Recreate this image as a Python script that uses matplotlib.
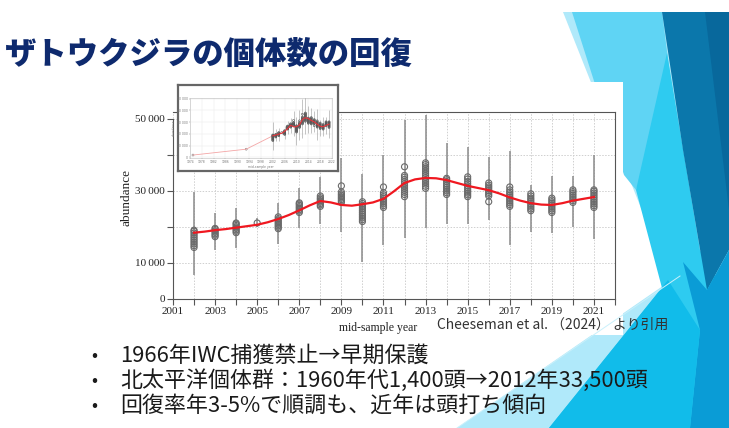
import matplotlib.pyplot as plt
from matplotlib.patches import Polygon, Rectangle

W, H = 729, 428

# humpback abundance, North Pacific (Cheeseman et al. 2024)
years = list(range(2002, 2022))
ci_low = [6700, 13600, 14200, 20000, 15300, 19700, 20800, 18600, 10300, 15000,
          16900, 19700, 20800, 20800, 21900, 15000, 18600, 18300, 20000, 16700]
ci_high = [29700, 23900, 25300, 22500, 26700, 30800, 33900, 39200, 34700, 40000,
           49700, 51000, 43300, 42200, 39400, 41100, 31700, 34200, 34200, 40000]
estimates = [
    [14300, 14800, 15300, 15800, 16300, 16800, 17300, 17800, 18300, 18800, 19100],
    [17300, 17700, 18100, 18500, 18900, 19300, 19600],
    [18400, 18800, 19200, 19600, 20000, 20400, 20800, 21100],
    [21100],
    [19500, 19900, 20300, 20700, 21100, 21500, 21900, 22300, 22800],
    [24000, 24400, 24800, 25200, 25600, 26000, 26400, 26700],
    [25700, 26100, 26500, 26900, 27300, 27700, 28100, 28600],
    [26800, 27200, 27600, 28000, 28400, 28800, 29200, 29700, 31400],
    [21500, 22000, 22500, 23000, 23500, 24000, 24500, 25000, 25500, 26000, 26500, 27000],
    [25400, 25900, 26400, 26900, 27400, 27900, 28400, 28900, 29500, 31100],
    [28400, 29000, 29600, 30200, 30800, 31400, 32000, 32600, 33200, 33800, 34300, 36700],
    [30700, 31300, 31900, 32500, 33100, 33700, 34300, 34900, 35500, 36100, 36700, 37300, 37800],
    [29000, 29500, 30000, 30500, 31000, 31500, 32000, 32600, 33100, 33500],
    [28400, 28900, 29400, 29900, 30400, 30900, 31400, 32000, 32600, 33300, 33900],
    [27000, 28600, 29100, 29600, 30100, 30600, 31100, 31600, 32200],
    [25700, 26200, 26700, 27200, 27700, 28200, 28700, 29200, 29700, 30300, 31100],
    [24500, 25000, 25500, 26000, 26500, 27000, 27500, 28000, 28600, 29200],
    [24000, 24500, 25000, 25500, 26000, 26500, 27000, 27500, 28000],
    [26800, 27300, 27800, 28300, 28800, 29300, 29800, 30300],
    [25400, 25900, 26400, 26900, 27400, 27900, 28400, 28900, 29400, 29900, 30300],
]
trend_x = [2002, 2002.5, 2003, 2003.5, 2004, 2004.5, 2005, 2005.5, 2006, 2006.5,
           2007, 2007.5, 2008, 2008.5, 2009, 2009.5, 2010, 2010.5, 2011, 2011.5,
           2012, 2012.5, 2013, 2013.5, 2014, 2014.5, 2015, 2015.5, 2016, 2016.5,
           2017, 2017.5, 2018, 2018.5, 2019, 2019.5, 2020, 2020.5, 2021]
trend_y = [18400, 18700, 19100, 19400, 19800, 20200, 20600, 21300, 22200, 23300,
           24600, 26000, 27200, 26800, 26100, 25900, 26300, 26800, 27800, 29900,
           32200, 33200, 33600, 33500, 33000, 32200, 31400, 30800, 30200, 29300,
           28200, 27300, 26600, 26200, 26100, 26600, 27300, 27800, 28300]
early_years = [1975, 1993]
early_vals = [2000, 7000]

title = 'ザトウクジラの個体数の回復'
bullets = ['1966年IWC捕獲禁止→早期保護',
           '北太平洋個体群：1960年代1,400頭→2012年33,500頭',
           '回復率年3-5%で順調も、近年は頭打ち傾向']
source = 'Cheeseman et al. （2024） より引用'

jp = ['Noto Sans CJK JP', 'DejaVu Sans']
serif = ['Liberation Serif', 'DejaVu Serif']

fig = plt.figure(figsize=(W / 100, H / 100), dpi=100)
fig.patch.set_facecolor('white')

# slide background in pixel coordinates
bg = fig.add_axes([0, 0, 1, 1])
bg.set_xlim(0, W)
bg.set_ylim(H, 0)
bg.axis('off')

shapes = [
    ('#b0e9fa', [(563, 12), (729, 12), (729, 428), (457, 428), (670, 281)]),
    ('#5fd4f4', [(572, 12), (662, 12), (672, 90), (636, 190), (624, 175)]),
    ('#2ecbf0', [(667, 53), (700, 250), (729, 300), (729, 428), (549, 428),
                 (662, 288), (636, 190)]),
    ('#0b77ab', [(662, 12), (729, 12), (729, 250), (707, 290), (683, 150)]),
    ('#08689c', [(705, 12), (729, 12), (729, 210)]),
    ('#0a9cd6', [(683, 262), (707, 290), (729, 250), (729, 428), (690, 428), (700, 330)]),
    ('#11bcea', [(549, 428), (668, 280), (700, 330), (690, 428)]),
]
for col, pts in shapes:
    bg.add_patch(Polygon(pts, closed=True, facecolor=col, edgecolor='none'))
bg.plot([457, 680], [428, 276], color='#c9f0fb', lw=0.7)

# white chart panel
bg.add_patch(Rectangle((120, 82), 503, 253, facecolor='white', edgecolor='none'))

bg.text(5, 54, title, fontsize=22.6, fontweight='black', color='#0e2a6e',
        family=jp, va='center', ha='left')
for i, line in enumerate(bullets):
    yy = 356 + 25 * i
    bg.text(91, yy, '•', fontsize=13, color='#1a1a1a', family=jp, va='center')
    bg.text(120, yy, line, fontsize=15.8, color='#1a1a1a', family=jp, va='center')
bg.text(437, 325, source, fontsize=10, color='#333333', family=jp, va='center')
bg.text(127, 197, 'abundance', rotation=90, fontsize=9.5, family=serif,
        color='#222222', ha='center', va='center')
bg.text(378, 328, 'mid-sample year', fontsize=8.5, family=serif,
        color='#222222', ha='center', va='center')

# main panel
ax = fig.add_axes([173 / W, 1 - 299 / H, (615 - 173) / W, (299 - 112) / H])
ax.set_facecolor('white')
ax.set_xlim(2001, 2022)
ax.set_ylim(0, 51900)
for s in ax.spines.values():
    s.set_color('#555555')
    s.set_linewidth(0.8)
ax.spines['left'].set_bounds(0, 50000)
ax.set_xticks(range(2001, 2023))
ax.set_xticklabels([str(y) if (y % 2 == 1 and y < 2022) else '' for y in range(2001, 2023)])
ax.set_yticks(range(0, 50001, 10000))
ax.set_yticklabels(['0', '10\u2009000', '', '30\u2009000', '', '50\u2009000'])
ax.tick_params(direction='out', length=4, width=0.8, color='#555555',
               labelsize=8, labelcolor='#222222', pad=2)
for lab in ax.get_xticklabels() + ax.get_yticklabels():
    lab.set_family(serif)
ax.grid(True, color='#cfcfcf', linestyle=(0, (1.5, 1.5)), lw=0.7)
ax.set_axisbelow(True)

ax.vlines(years, ci_low, ci_high, color='#8a8a8a', lw=1.1, zorder=2)
for yr, vals in zip(years, estimates):
    ax.scatter([yr] * len(vals), vals, s=19, facecolors='none',
               edgecolors='#6a6a6a', linewidths=0.8, zorder=3)
ax.plot(trend_x, trend_y, color='#f01820', lw=1.6, zorder=4)

# inset with the longer series
frame = fig.add_axes([178 / W, 1 - 171 / H, 160 / W, 86 / H])
frame.set_xticks([])
frame.set_yticks([])
frame.set_facecolor('white')
for s in frame.spines.values():
    s.set_color('#666666')
    s.set_linewidth(1.6)

ins = fig.add_axes([190 / W, 1 - 158 / H, 142 / W, 60 / H])
ins.set_xlim(1974, 2022)
ins.set_ylim(-500, 50500)
ins.set_xticks(range(1974, 2023, 4))
ins.set_xticklabels([str(y) for y in range(1974, 2023, 4)])
ins.set_yticks(range(0, 50001, 10000))
ins.set_yticklabels(['0', '10 000', '20 000', '30 000', '40 000', '50 000'])
ins.tick_params(labelsize=2.2, length=1, width=0.3, pad=0.5, colors='#777777')
for s in ins.spines.values():
    s.set_color('#bbbbbb')
    s.set_linewidth(0.4)
ins.grid(True, color='#e6e6e6', lw=0.3)
ins.set_xlabel('mid-sample year', fontsize=2.2, labelpad=0.5, color='#777777')
ins.set_ylabel('abundance', fontsize=2.2, labelpad=0.5, color='#777777')
ins.vlines(years, ci_low, ci_high, color='#999999', lw=0.4)
for yr, vals in zip(years, estimates):
    ins.scatter([yr] * len(vals), vals, s=2, facecolors='none',
                edgecolors='#555555', linewidths=0.4, zorder=3)
ins.plot(early_years + [trend_x[0]], early_vals + [trend_y[0]], color='#f4a6a6', lw=0.6)
ins.scatter(early_years, early_vals, s=2, facecolors='none', edgecolors='#777777', linewidths=0.4)
ins.plot(trend_x, trend_y, color='#e8343a', lw=0.8, zorder=4)

fig.savefig('out.png', dpi=100)
